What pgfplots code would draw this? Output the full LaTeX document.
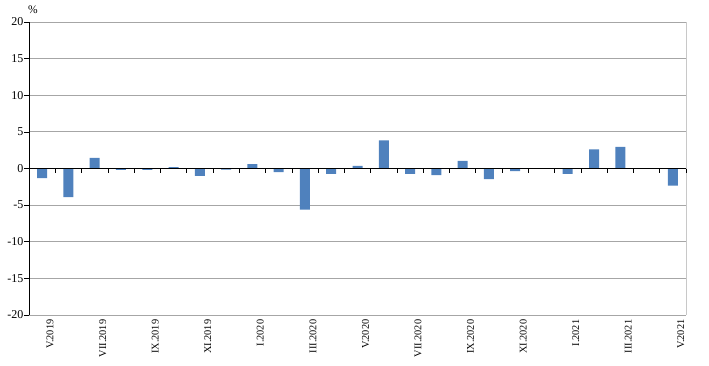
\documentclass[border=0pt]{standalone}
\usepackage{pgfplots}
\pgfplotsset{compat=1.18}
\usepackage{fontspec}
\setmainfont{Liberation Serif}
\definecolor{barblue}{HTML}{4F81BD}
\definecolor{gridgray}{HTML}{A6A6A6}
\definecolor{bordergray}{HTML}{C8C8C8}
\begin{document}
\begin{tikzpicture}
\begin{axis}[
  scale only axis,
  width=657pt, height=293pt,
  xmin=-0.5, xmax=24.5,
  ymin=-20, ymax=20,
  clip=false,
  axis line style={draw=none},
  ytick={-20,-15,...,20},
  yticklabels={-20,-15,-10,-5,0,5,10,15,20},
  ytick pos=left,
  tick align=outside,
  major tick length=4.5pt,
  ytick style={black, line width=0.6pt},
  ymajorgrids,
  grid style={gridgray, line width=0.8pt},
  xtick={0,2,...,24},
  xticklabels={V.2019,VII.2019,IX.2019,XI.2019,I.2020,III.2020,V.2020,VII.2020,IX.2020,XI.2020,I.2021,III.2021,V.2021},
  xtick style={draw=none},
  xticklabel style={rotate=90, anchor=east, inner sep=0pt, font=\fontsize{10.3}{12}\selectfont},
  every x tick label/.append style={yshift=-8pt},
  yticklabel style={inner sep=1pt, font=\fontsize{12}{14}\selectfont},
]
\addplot[ybar, bar width=10pt, fill=barblue, draw=none] coordinates {
(0,-1.3) (1,-3.9) (2,1.45) (3,-0.2) (4,-0.2) (5,0.2) (6,-1.0) (7,-0.15)
(8,0.6) (9,-0.5) (10,-5.6) (11,-0.75) (12,0.35) (13,3.85) (14,-0.75)
(15,-0.9) (16,1.05) (17,-1.45) (18,-0.35) (19,0) (20,-0.75) (21,2.6)
(22,2.95) (23,0) (24,-2.35)
};
\draw[bordergray, line width=0.8pt] (axis cs:24.5,-20) -- (axis cs:24.5,20);
\draw[black, line width=0.8pt] (axis cs:-0.5,-20) -- (axis cs:-0.5,20);
\draw[black, line width=0.8pt] (axis cs:-0.5,0) -- (axis cs:24.5,0);
\pgfplotsinvokeforeach{0.5,1.5,...,24.5}{
  \draw[black, line width=0.6pt] (axis cs:#1,0) -- ([yshift=-4.5pt]axis cs:#1,0);
}
\end{axis}
\node[anchor=south, inner sep=0pt, font=\fontsize{11.5}{13}\selectfont] at ([yshift=8pt,xshift=4pt]current axis.north west) {\%};
\path (current axis.south west) ++(-29pt,-50pt) rectangle ++(709pt,365pt);
\end{tikzpicture}
\end{document}
